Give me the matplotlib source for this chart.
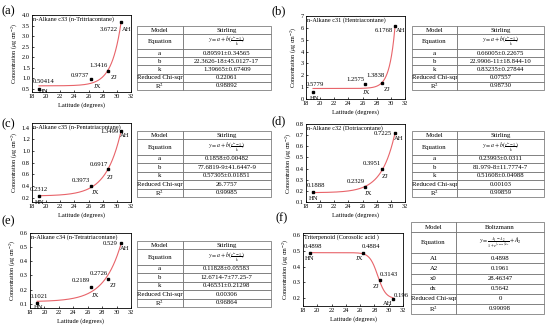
import numpy as np
import matplotlib
matplotlib.use("Agg")
from matplotlib import pyplot as plt

plt.rcParams['font.family'] = ['Liberation Serif', 'DejaVu Serif']
plt.rcParams['mathtext.fontset'] = 'stix'

# sampling sites and their latitude
sites = ['HN', 'JX', 'ZJ', 'AH']
latitude = [19.0, 26.4, 28.8, 30.6]

# concentrations (ug cm-2)
c33 = [0.50414, 0.9737, 1.3416, 3.6722]
c31 = [0.5779, 1.2575, 1.3838, 6.1768]
c35 = [0.2312, 0.3973, 0.6917, 1.3499]
c32 = [0.1888, 0.2329, 0.3951, 0.7225]
c34 = [0.1021, 0.2189, 0.2726, 0.529]
corosolic = [0.4898, 0.4884, 0.3143, 0.196]

# fit tables
stirling_rows = ['a', 'b', 'k', 'Reduced Chi-sqr', 'R$^2$']
c33_table = ['0.89591±0.34565', '22.3626-18±45.0127-17', '1.39665±0.67409', '0.22061', '0.98892']
c31_table = ['0.66005±0.22675', '22.9906-11±18.844-10', '0.83235±0.27844', '0.07557', '0.98730']
c35_table = ['0.1858±0.00482', '77.6819-9±41.6447-9', '0.57305±0.01851', '26.7757', '0.99985']
c32_table = ['0.23993±0.0311', '81.979-8±11.7774-7', '0.51608±0.04988', '0.00103', '0.99859']
c34_table = ['0.11828±0.05583', '12.6714-7±77.25-7', '0.46531±0.21298', '0.00306', '0.96864']
boltz_rows = ['A1', 'A2', 'x0', 'dx', 'Reduced Chi-sqr', 'R$^2$']
A1, A2, x0, dx = 0.4898, 0.1961, 28.46347, 0.5642
corosolic_table = ['0.4898', '0.1961', '28.46347', '0.5642', '0', '0.99098']

STIRLING = r'$y = a + b(\frac{e^{kx}-1}{k})$'
BOLTZ = r'$y = \frac{A_1 - A_2}{1+e^{(x-x_0)/dx}} + A_2$'
W, H = 550, 332

fig = plt.figure(figsize=(W / 100, H / 100), dpi=100)


def px(l, t, r, b):
    return [l / W, 1 - b / H, (r - l) / W, (b - t) / H]


def stirling_fit(x, y):
    x = np.asarray(x)
    y = np.asarray(y)
    best = None
    for k in np.linspace(0.05, 3, 600):
        f = np.expm1(k * x) / k
        s = f.max()
        A = np.column_stack([np.ones_like(x), f / s])
        coef = np.linalg.lstsq(A, y, rcond=None)[0]
        err = ((A @ coef - y) ** 2).sum()
        if best is None or err < best[0]:
            best = (err, k, coef[0], coef[1], s)
    _, k, a, bs, s = best
    return lambda xx: a + bs * np.expm1(k * xx) / k / s


def boltzmann(xx):
    return (A1 - A2) / (1 + np.exp((xx - x0) / dx)) + A2


def panel(rect, y, title, ylim, yticks, curve, val_off, site_off):
    ax = fig.add_axes(px(*rect))
    xs = np.linspace(latitude[0], latitude[-1], 300)
    ax.plot(xs, curve(xs), color='#e8646a', lw=0.8)
    ax.plot(latitude, y, 's', color='black', ms=1.8)
    for i in range(4):
        ax.annotate(str(y[i]), (latitude[i], y[i]), xytext=val_off[i],
                    textcoords='offset pixels', ha='center', va='center', fontsize=4.8)
        ax.annotate(sites[i], (latitude[i], y[i]), xytext=site_off[i],
                    textcoords='offset pixels', ha='center', va='center', fontsize=4.8)
    ax.set_xlim(18, 32)
    ax.set_xticks(range(18, 33, 2))
    ax.set_ylim(*ylim)
    ax.set_yticks(yticks)
    ax.tick_params(labelsize=4.6, length=1.5, width=0.5, pad=1.5, direction='in')
    for sp in ax.spines.values():
        sp.set_linewidth(0.6)
    ax.set_xlabel('Latitude (degrees)', fontsize=4.6, labelpad=2)
    ax.set_ylabel(r'Concentration ($\mu$g cm$^{-2}$)', fontsize=4.3, labelpad=1.5)
    ax.text(0.01, 0.99, title, transform=ax.transAxes, ha='left', va='top', fontsize=4.5)
    return ax


def table(rect, model, equation, rows, values, eq_h):
    tax = fig.add_axes(px(*rect))
    tax.axis('off')
    cells = [['Model', model], ['Equation', equation]] + [[r, v] for r, v in zip(rows, values)]
    tb = tax.table(cellText=cells, cellLoc='center', bbox=[0, 0, 1, 1], colWidths=[0.34, 0.66])
    tb.auto_set_font_size(False)
    tb.set_fontsize(4.9)
    for (r, c), cell in tb.get_celld().items():
        cell.set_edgecolor('#666666')
        cell.set_linewidth(0.5)
        cell.set_height(eq_h if r == 1 else 1.0)
        if r == 1 and c == 1:
            cell.get_text().set_fontsize(4.2)


# (a)
panel((32, 15, 131, 92), c33, 'n-Alkane c33 (n-Tritriacontane)', (0.35, 4.0),
      np.arange(0.5, 4.01, 0.5), stirling_fit(latitude, c33),
      [(5, 7), (-11, 3), (-10, 6), (-12, -8)], [(5, -3), (6, -8), (6, -6), (6, -8)])
table((137, 26, 271, 90), 'Stirling', STIRLING, stirling_rows, c33_table, 1.8)

# (b)
panel((306, 16, 405, 99), c31, 'n-Alkane c31 (Hentriacontane)', (0, 7),
      range(0, 8), stirling_fit(latitude, c31),
      [(2, 8), (-10, 5), (-7, 7), (-11, -5)], [(2, -6), (1, -8), (5, -7), (6, -5)])
table((412, 26, 544, 90), 'Stirling', STIRLING, stirling_rows, c31_table, 1.8)

# (c)
panel((32, 123, 131, 202), c35, 'n-Alkane c35 (n-Pentatriacontane)', (0.13, 1.48),
      np.arange(0.2, 1.41, 0.2), stirling_fit(latitude, c35),
      [(0, 7), (-11, 6), (-9, 5), (-12, -1)], [(1, -6), (4, -6), (2, -8), (4, -5)])
table((137, 131, 271, 197), 'Stirling', STIRLING, stirling_rows, c35_table, 1.8)

# (d)
panel((306, 124, 405, 202), c32, 'n-Alkane c32 (Dotriacontane)', (0.1, 0.8),
      np.arange(0.1, 0.81, 0.1), stirling_fit(latitude, c32),
      [(3, 7), (-10, 6), (-10, 6), (-12, -1)], [(1, -6), (3, -6), (3, -7), (4, -6)])
table((412, 131, 544, 197), 'Stirling', STIRLING, stirling_rows, c32_table, 1.8)

# (e)
panel((30, 233, 131, 308), c34, 'n-Alkane c34 (n-Tetratriacontane)', (0.07, 0.6),
      np.arange(0.1, 0.61, 0.1), stirling_fit(latitude, c34),
      [(2, 7), (-10, 6), (-9, 6), (-11, 0)], [(1, -4), (5, -9), (5, -6), (4, -5)])
table((137, 241, 271, 307), 'Stirling', STIRLING, stirling_rows, c34_table, 1.8)

# (f)
panel((303, 233, 403, 306), corosolic, 'Triterpenoid (Corosolic acid )', (0.15, 0.615),
      np.arange(0.2, 0.61, 0.1), boltzmann,
      [(3, 6), (8, 6), (9, 6), (8, 3)], [(-1, -6), (-3, -6), (-4, -6), (-5, -5)])
table((411, 222, 544, 314), 'Boltzmann', BOLTZ, boltz_rows, corosolic_table, 2.1)

for lab, x, y in [('(a)', 2, 11), ('(b)', 272, 11), ('(c)', 2, 124), ('(d)', 272, 121),
                  ('(e)', 2, 221), ('(f)', 275, 218)]:
    fig.text(x / W, 1 - y / H, lab, fontsize=9, ha='left', va='center')

fig.savefig('out.png', dpi=100)
